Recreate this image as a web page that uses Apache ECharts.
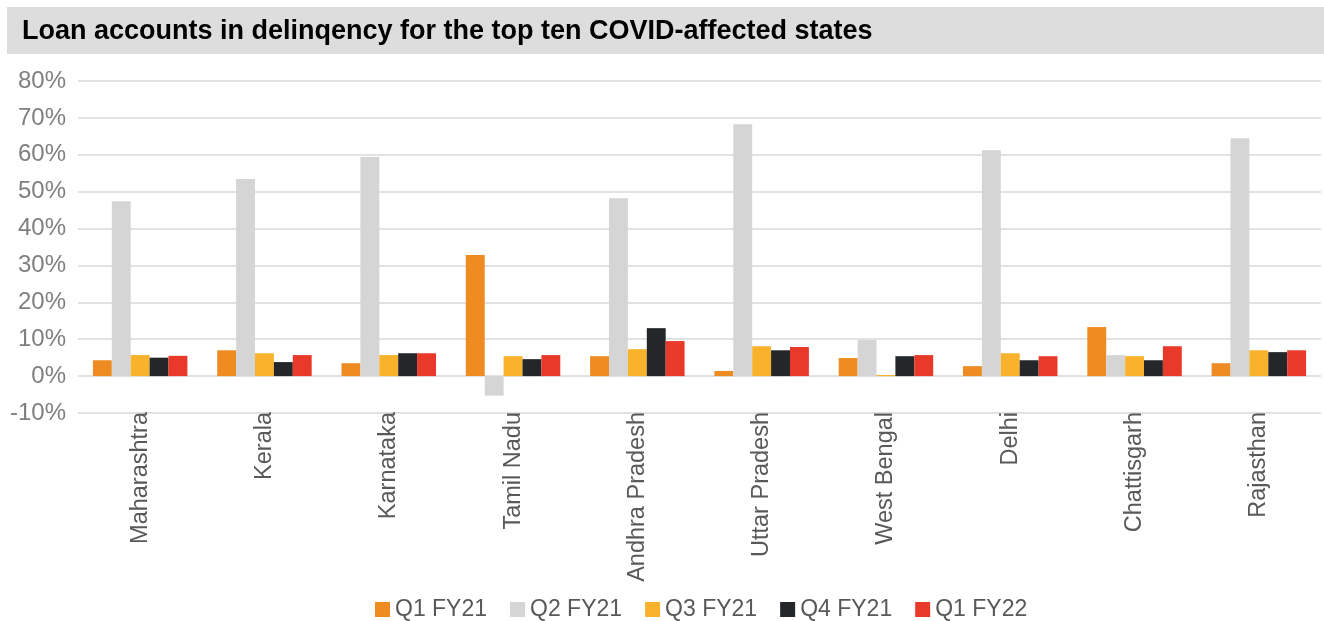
<!DOCTYPE html>
<html>
<head>
<meta charset="utf-8">
<script src="https://cdn.jsdelivr.net/npm/echarts@6/dist/echarts.min.js"></script>
<style>html,body{margin:0;padding:0;background:#fff;}#c{width:1324px;height:621px;}</style>
</head>
<body>
<div id="c"></div>
<script>
const titleText = 'Loan accounts in delinqency for the top ten COVID-affected states';
const states = ['Maharashtra','Kerala','Karnataka','Tamil Nadu','Andhra Pradesh','Uttar Pradesh','West Bengal','Delhi','Chattisgarh','Rajasthan'];
const seriesNames = ['Q1 FY21','Q2 FY21','Q3 FY21','Q4 FY21','Q1 FY22'];
const q1fy21 = [4.3, 7.0, 3.5, 32.8, 5.4, 1.4, 4.9, 2.7, 13.3, 3.5];
const q2fy21 = [47.4, 53.4, 59.4, -5.3, 48.2, 68.3, 9.8, 61.2, 5.7, 64.5];
const q3fy21 = [5.7, 6.2, 5.7, 5.4, 7.3, 8.1, 0.3, 6.2, 5.4, 7.0];
const q4fy21 = [5.0, 3.8, 6.2, 4.6, 13.0, 7.0, 5.4, 4.3, 4.3, 6.5];
const q1fy22 = [5.5, 5.7, 6.2, 5.7, 9.5, 7.9, 5.7, 5.4, 8.1, 7.0];
const yTicks = {min: -10, max: 80, interval: 10};

const colors = ['#EE8C22', '#D5D5D5', '#F9B22B', '#24272A', '#E8392A'];
const data = [q1fy21, q2fy21, q3fy21, q4fy21, q1fy22];
const font = 'Liberation Sans, Arial, Helvetica, sans-serif';

const chart = echarts.init(document.getElementById('c'));
chart.setOption({
  animation: false,
  color: colors,
  graphic: [
    {type: 'rect', left: 7, top: 7, shape: {width: 1317, height: 47}, style: {fill: '#DDDDDD'}, z: -1},
    {type: 'text', x: 22, y: 32, style: {text: titleText, font: 'bold 27px ' + font, fill: '#000', verticalAlign: 'middle'}}
  ],
  legend: {
    top: 598, left: 375, padding: 0,
    itemWidth: 15, itemHeight: 15, itemGap: 23,
    icon: 'rect',
    textStyle: {fontFamily: font, fontSize: 23, color: '#595959'},
    data: seriesNames
  },
  grid: {left: 78, right: 3, top: 81, bottom: 208, containLabel: false},
  xAxis: {
    type: 'category', data: states,
    axisLine: {show: false}, axisTick: {show: false},
    axisLabel: {rotate: 90, fontFamily: font, fontSize: 23.5, color: '#595959', margin: -1, interval: 0}
  },
  yAxis: {
    type: 'value', min: yTicks.min, max: yTicks.max, interval: yTicks.interval,
    axisLine: {show: false}, axisTick: {show: false},
    axisLabel: {formatter: '{value}%', fontFamily: font, fontSize: 24, color: '#7F7F7F', margin: 12},
    splitLine: {lineStyle: {color: '#D9D9D9', width: 1.5}}
  },
  series: seriesNames.map((n, i) => ({
    name: n, type: 'bar', data: data[i],
    barGap: '0%', barCategoryGap: '24%',
    itemStyle: {color: colors[i]}
  }))
});
</script>
</body>
</html>
